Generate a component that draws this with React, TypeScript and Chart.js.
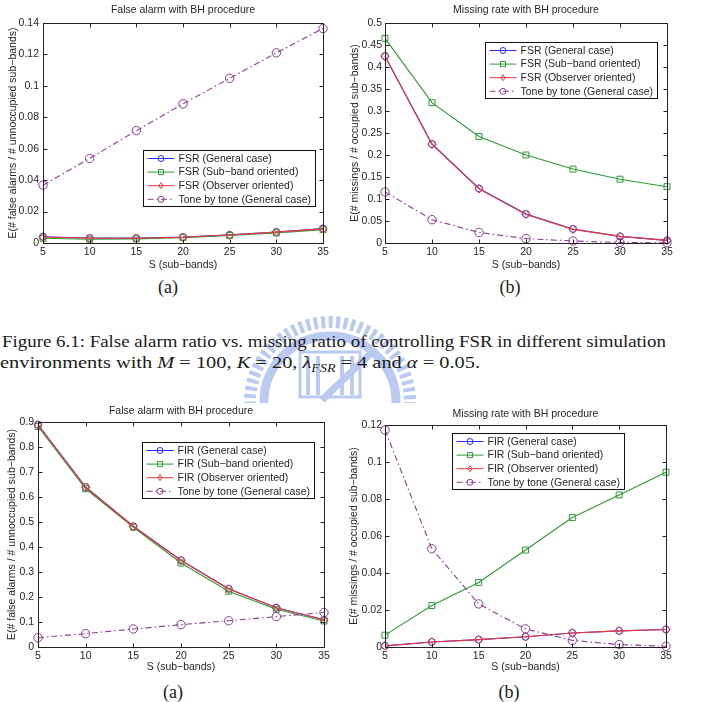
import React, { useEffect, useRef } from 'react';
import { Chart, registerables } from 'chart.js';

Chart.register(...registerables);

const FONT = '"Liberation Sans", Arial, Helvetica, sans-serif';
const SERIF = '"Liberation Serif", "DejaVu Serif", "Times New Roman", serif';
const FS = 10.5;

// ---------- data ----------
const S = [5, 10, 15, 20, 25, 30, 35];

// Figure 6.1 (a): false alarm, FSR control
const fsrFaGeneral = [0.004, 0.0032, 0.0031, 0.0038, 0.0052, 0.007, 0.0092];
const fsrFaSubband = [0.003, 0.0024, 0.0026, 0.0034, 0.0048, 0.0064, 0.0085];
const fsrFaObserver = [0.0038, 0.003, 0.003, 0.0037, 0.0051, 0.0069, 0.009];
const fsrFaTone = [0.0368, 0.0538, 0.0715, 0.0885, 0.1048, 0.121, 0.1365];

// Figure 6.1 (b): missing rate, FSR control
const fsrMissGeneral = [0.425, 0.225, 0.124, 0.066, 0.032, 0.015, 0.006];
const fsrMissSubband = [0.465, 0.319, 0.242, 0.2, 0.168, 0.145, 0.128];
const fsrMissObserver = [0.424, 0.224, 0.123, 0.065, 0.031, 0.015, 0.006];
const fsrMissTone = [0.116, 0.053, 0.024, 0.01, 0.0045, 0.0012, 0.0005];

// Figure 6.2 (a): false alarm, FIR control
const firFaGeneral = [0.89, 0.64, 0.483, 0.347, 0.233, 0.157, 0.109];
const firFaSubband = [0.882, 0.633, 0.479, 0.336, 0.223, 0.151, 0.104];
const firFaObserver = [0.888, 0.639, 0.482, 0.346, 0.232, 0.157, 0.109];
const firFaTone = [0.0372, 0.0535, 0.072, 0.0893, 0.105, 0.1215, 0.138];

// Figure 6.2 (b): missing rate, FIR control
const firMissGeneral = [0.0006, 0.0027, 0.004, 0.0055, 0.0076, 0.0087, 0.0095];
const firMissSubband = [0.0064, 0.0224, 0.0349, 0.0524, 0.07, 0.0822, 0.0945];
const firMissObserver = [0.0006, 0.0027, 0.004, 0.0055, 0.0076, 0.0087, 0.0095];
const firMissTone = [0.1173, 0.0531, 0.0233, 0.0098, 0.0036, 0.0013, 0.0004];

const fsrLabels = ['FSR (General case)', 'FSR (Sub\u2212band oriented)', 'FSR (Observer oriented)', 'Tone by tone (General case)'];
const firLabels = ['FIR (General case)', 'FIR (Sub\u2212band oriented)', 'FIR (Observer oriented)', 'Tone by tone (General case)'];

const titleFalse = 'False alarm with BH procedure';
const titleMiss = 'Missing rate with BH procedure';
const yTitleFalse = 'E(# false alarms / # unnoccupied sub\u2212bands)';
const yTitleMiss = 'E(# missings / # occupied sub\u2212bands)';
const xTitle = 'S (sub\u2212bands)';

// ---------- styles ----------
const COLORS = ['#2b2bf5', '#2f9a34', '#ec3a3a', '#8e3b93'];
const SHAPES = ['circle', 'rect', 'rectRot', 'circle'];
const RADII = [3.5, 4.2, 4.2, 4.2];
const DASHES = [[], [], [], [6, 3, 1.5, 3]];
const TEXT = '#262626';

function fmt(v: number) {
  return String(parseFloat(Number(v).toFixed(4)));
}

function drawMarker(ctx: CanvasRenderingContext2D, shape: string, x: number, y: number, r: number) {
  ctx.beginPath();
  if (shape === 'circle') {
    ctx.arc(x, y, r, 0, Math.PI * 2);
  } else if (shape === 'rect') {
    const s = r * Math.SQRT1_2;
    ctx.rect(x - s, y - s, 2 * s, 2 * s);
  } else {
    ctx.moveTo(x, y - r);
    ctx.lineTo(x + r * 0.7, y);
    ctx.lineTo(x, y + r);
    ctx.lineTo(x - r * 0.7, y);
    ctx.closePath();
  }
  ctx.stroke();
}

const framePlugin = {
  id: 'matlabFrame',
  afterDraw(chart: any, _args: any, opts: any) {
    const { ctx, chartArea: a, scales } = chart;
    ctx.save();
    ctx.strokeStyle = '#222';
    ctx.lineWidth = 1;
    const L = Math.round(a.left) + 0.5;
    const R = Math.round(a.right) + 0.5;
    const T = Math.round(a.top) + 0.5;
    const B = Math.round(a.bottom) + 0.5;
    ctx.strokeRect(L, T, R - L, B - T);
    const tl = 4;
    ctx.beginPath();
    scales.x.ticks.forEach((t: any) => {
      const px = Math.round(scales.x.getPixelForValue(t.value)) + 0.5;
      ctx.moveTo(px, B); ctx.lineTo(px, B - tl);
      ctx.moveTo(px, T); ctx.lineTo(px, T + tl);
    });
    scales.y.ticks.forEach((t: any) => {
      const py = Math.round(scales.y.getPixelForValue(t.value)) + 0.5;
      ctx.moveTo(L, py); ctx.lineTo(L + tl, py);
      ctx.moveTo(R, py); ctx.lineTo(R - tl, py);
    });
    ctx.stroke();

    // legend box
    const ds = chart.data.datasets;
    ctx.font = `${FS}px ${FONT}`;
    let tw = 0;
    ds.forEach((d: any) => { tw = Math.max(tw, ctx.measureText(d.label).width); });
    const x0 = Math.round(a.left + opts.lx) + 0.5;
    const y0 = Math.round(a.top + opts.ly) + 0.5;
    const w = Math.round(35 + tw + 5);
    const rowH = 13.6;
    const h = 56;
    ctx.fillStyle = '#ffffff';
    ctx.fillRect(x0, y0, w, h);
    ctx.strokeStyle = '#111';
    ctx.strokeRect(x0, y0, w, h);
    ds.forEach((d: any, i: number) => {
      const cy = y0 + 8 + i * rowH;
      ctx.strokeStyle = COLORS[i];
      ctx.lineWidth = 1;
      ctx.setLineDash(DASHES[i]);
      ctx.beginPath();
      ctx.moveTo(x0 + 4, cy);
      ctx.lineTo(x0 + 31, cy);
      ctx.stroke();
      ctx.setLineDash([]);
      drawMarker(ctx, SHAPES[i], x0 + 17.5, cy, i === 1 ? 3.6 : 3);
      ctx.fillStyle = TEXT;
      ctx.textBaseline = 'middle';
      ctx.textAlign = 'left';
      ctx.fillText(d.label, x0 + 35, cy + 0.5);
    });
    ctx.restore();
  },
};

type Cfg = {
  left: number; top: number; width: number; height: number;
  title: string; yTitle: string; labels: string[]; series: number[][];
  yMax: number; yStep: number;
  yW: number; xH: number; padR: number;
  tPt: number; tPb: number; yTitlePt: number; xTitlePb: number; yTickPad: number;
  lx: number; ly: number;
};

function MatlabChart({ cfg }: { cfg: Cfg }) {
  const ref = useRef<HTMLCanvasElement>(null);
  useEffect(() => {
    if (!ref.current) return;
    const datasets = cfg.series.map((arr, i) => ({
      label: cfg.labels[i],
      data: S.map((x, j) => ({ x, y: arr[j] })),
      borderColor: COLORS[i],
      backgroundColor: 'rgba(0,0,0,0)',
      pointBorderColor: COLORS[i],
      pointBackgroundColor: 'rgba(255,255,255,0)',
      pointStyle: SHAPES[i] as any,
      pointRadius: RADII[i],
      pointBorderWidth: 1,
      borderWidth: 1.1,
      borderDash: DASHES[i],
      tension: 0,
      clip: false as any,
      order: 4 - i,
    }));
    const chart = new Chart(ref.current, {
      type: 'line',
      data: { datasets },
      plugins: [framePlugin as any],
      options: {
        responsive: false,
        animation: false,
        devicePixelRatio: 1,
        layout: { padding: { left: 0, right: cfg.padR, top: 0, bottom: 0 } },
        plugins: {
          legend: { display: false },
          tooltip: { enabled: false },
          title: {
            display: true,
            text: cfg.title,
            fullSize: false,
            color: TEXT,
            font: { size: FS, family: FONT, weight: 'normal' as any, lineHeight: 1.2 },
            padding: { top: cfg.tPt, bottom: cfg.tPb },
          },
          matlabFrame: { lx: cfg.lx, ly: cfg.ly },
        } as any,
        scales: {
          x: {
            type: 'linear',
            min: 5,
            max: 35,
            grid: { display: false, drawTicks: false },
            border: { display: false },
            ticks: { stepSize: 5, padding: 3, color: TEXT, font: { size: FS, family: FONT }, maxRotation: 0, autoSkip: false },
            title: { display: true, text: xTitle, color: TEXT, font: { size: FS, family: FONT }, padding: { top: 0, bottom: cfg.xTitlePb } },
            afterFit: (s: any) => { s.height = cfg.xH; },
          },
          y: {
            type: 'linear',
            min: 0,
            max: cfg.yMax,
            grid: { display: false, drawTicks: false },
            border: { display: false },
            ticks: { stepSize: cfg.yStep, padding: cfg.yTickPad, color: TEXT, font: { size: FS, family: FONT }, callback: (v: any) => fmt(v), autoSkip: false },
            title: { display: true, text: cfg.yTitle, color: TEXT, font: { size: FS, family: FONT }, padding: { top: cfg.yTitlePt, bottom: 0 } },
            afterFit: (s: any) => { s.width = cfg.yW; },
          },
        },
      },
    });
    return () => chart.destroy();
  }, [cfg]);
  return (
    <canvas
      ref={ref}
      width={cfg.width}
      height={cfg.height}
      style={{ position: 'absolute', left: cfg.left, top: cfg.top, width: cfg.width, height: cfg.height }}
    />
  );
}

const charts: Cfg[] = [
  {
    left: 0, top: 0, width: 345, height: 275,
    title: titleFalse, yTitle: yTitleFalse, labels: fsrLabels,
    series: [fsrFaGeneral, fsrFaSubband, fsrFaObserver, fsrFaTone],
    yMax: 0.14, yStep: 0.02, yW: 43, xH: 32, padR: 22,
    tPt: 4, tPb: 6.4, yTitlePt: 7, xTitlePb: 4, yTickPad: 4, lx: 100, ly: 127,
  },
  {
    left: 342, top: 0, width: 347, height: 275,
    title: titleMiss, yTitle: yTitleMiss, labels: fsrLabels,
    series: [fsrMissGeneral, fsrMissSubband, fsrMissObserver, fsrMissTone],
    yMax: 0.5, yStep: 0.05, yW: 43, xH: 32, padR: 22,
    tPt: 4, tPb: 6.4, yTitlePt: 7, xTitlePb: 4, yTickPad: 3, lx: 100, ly: 19,
  },
  {
    left: 0, top: 398, width: 346, height: 279,
    title: titleFalse, yTitle: yTitleFalse, labels: firLabels,
    series: [firFaGeneral, firFaSubband, firFaObserver, firFaTone],
    yMax: 0.9, yStep: 0.1, yW: 38, xH: 30, padR: 22,
    tPt: 7, tPb: 4.4, yTitlePt: 6, xTitlePb: 4, yTickPad: 4, lx: 104, ly: 20,
  },
  {
    left: 342, top: 398, width: 346, height: 279,
    title: titleMiss, yTitle: yTitleMiss, labels: firLabels,
    series: [firMissGeneral, firMissSubband, firMissObserver, firMissTone],
    yMax: 0.12, yStep: 0.02, yW: 43, xH: 30, padR: 22,
    tPt: 10, tPb: 4.4, yTitlePt: 6, xTitlePb: 4, yTickPad: 3, lx: 67, ly: 8,
  },
];

const subLabels = [
  { text: '(a)', x: 168, y: 287 },
  { text: '(b)', x: 510, y: 287 },
  { text: '(a)', x: 173, y: 692 },
  { text: '(b)', x: 509, y: 692 },
];

export default function App() {
  const wm = '#a9bdee';
  return (
    <div style={{ position: 'absolute', left: 0, top: 0, width: 705, height: 702, background: '#fff', overflow: 'hidden' }}>
      <svg width={705} height={702} style={{ position: 'absolute', left: 0, top: 0 }}>
        <defs>
          <clipPath id="wmclip">
            <rect x={230} y={300} width={200} height={103} />
          </clipPath>
        </defs>
        <g opacity={0.8} clipPath="url(#wmclip)">
          <circle cx={330} cy={402} r={80} fill="none" stroke={wm} strokeWidth={12} strokeDasharray="4 3.5" />
          <circle cx={330} cy={402} r={66} fill="none" stroke={wm} strokeWidth={9} />
          <rect x={300} y={352} width={60} height={45} fill="none" stroke={wm} strokeWidth={3} />
          <path d="M 308 356 L 308 395 M 318 356 L 318 395 M 342 356 L 342 395 M 352 356 L 352 395" stroke={wm} strokeWidth={4} />
          <path d="M 322 400 L 372 352" stroke={wm} strokeWidth={7} />
        </g>
        <text x={2} y={347} fontFamily={SERIF} fontSize={17.5} fill="#1a1a1a" textLength={664} lengthAdjust="spacingAndGlyphs">
          Figure 6.1: False alarm ratio vs. missing ratio of controlling FSR in different simulation
        </text>
        <text x={0} y={368} fontFamily={SERIF} fontSize={17.5} fill="#1a1a1a" textLength={480} lengthAdjust="spacingAndGlyphs">
          <tspan>environments with </tspan>
          <tspan fontStyle="italic">M</tspan>
          <tspan>{' = 100, '}</tspan>
          <tspan fontStyle="italic">K</tspan>
          <tspan>{' = 20, '}</tspan>
          <tspan fontStyle="italic">λ</tspan>
          <tspan fontStyle="italic" fontSize={12} dy={4}>FSR</tspan>
          <tspan dy={-4}>{' = 4 and '}</tspan>
          <tspan fontStyle="italic">α</tspan>
          <tspan>{' = 0.05.'}</tspan>
        </text>
        {subLabels.map((l, i) => (
          <text key={i} x={l.x} y={l.y} fontFamily={SERIF} fontSize={18} fill="#1a1a1a" textAnchor="middle" dominantBaseline="central">
            {l.text}
          </text>
        ))}
      </svg>
      {charts.map((c, i) => (
        <MatlabChart key={i} cfg={c} />
      ))}
    </div>
  );
}
